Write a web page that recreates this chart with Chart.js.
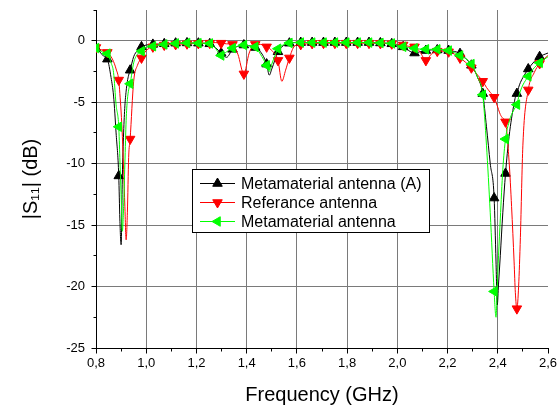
<!DOCTYPE html>
<html><head><meta charset="utf-8">
<script src="https://cdn.jsdelivr.net/npm/chart.js@4.4.1/dist/chart.umd.min.js"></script>
<style>html,body{margin:0;padding:0;background:#fff;}canvas{display:block;}</style>
</head><body>
<canvas id="c" width="560" height="409"></canvas>
<script>
// Frequency samples (GHz)
const freq = [
0.8000, 0.8150, 0.8300, 0.8453, 0.8600, 0.8700, 0.8800, 0.8906, 0.8950, 0.9000,
0.9050, 0.9100, 0.9150, 0.9200, 0.9250, 0.9300, 0.9359, 0.9500, 0.9650, 0.9812,
1.0000, 1.0265, 1.0718, 1.1171, 1.1624, 1.2077, 1.2530, 1.2750, 1.2983, 1.3200,
1.3436, 1.3650, 1.3889, 1.4100, 1.4342, 1.4550, 1.4795, 1.4900, 1.5000, 1.5248,
1.5400, 1.5550, 1.5701, 1.5900, 1.6154, 1.6607, 1.7060, 1.7513, 1.7966, 1.8419,
1.8872, 1.9325, 1.9778, 2.0000, 2.0231, 2.0450, 2.0684, 2.0900, 2.1137, 2.1350,
2.1590, 2.2043, 2.2496, 2.2949, 2.3200, 2.3402, 2.3550, 2.3700, 2.3855, 2.3930,
2.3980, 2.4030, 2.4100, 2.4200, 2.4308, 2.4450, 2.4550, 2.4650, 2.4700, 2.4761,
2.4830, 2.4900, 2.5000, 2.5214, 2.5450, 2.5667, 2.6000
];
// |S11| (dB) — Metamaterial antenna (A)
const s11MetaA = [
-0.6, -0.9, -1.25, -1.5, -3.0, -4.5, -7.5, -11.0, -14.5, -16.6,
-11.0, -7.5, -5.3, -4.1, -3.3, -2.8, -2.4, -1.3, -0.8, -0.5,
-0.35, -0.3, -0.25, -0.2, -0.18, -0.2, -0.25, -0.55, -1.0, -1.35,
-0.7, -0.45, -0.35, -0.4, -0.55, -0.9, -1.9, -2.8, -2.3, -0.9,
-0.5, -0.3, -0.2, -0.15, -0.15, -0.15, -0.15, -0.15, -0.15, -0.15,
-0.15, -0.18, -0.25, -0.35, -0.5, -0.8, -1.0, -0.9, -0.8, -0.75,
-0.75, -0.8, -1.05, -2.0, -3.0, -4.3, -7.0, -10.0, -12.8, -18.0,
-21.5, -19.8, -17.5, -14.0, -10.8, -7.8, -6.3, -5.1, -4.6, -4.3,
-3.8, -3.4, -3.0, -2.3, -1.7, -1.3, -1.0
];
// |S11| (dB) — Referance antenna
const s11Ref = [
-0.55, -0.7, -0.8, -0.95, -1.3, -1.7, -2.3, -3.2, -4.3, -5.8,
-7.8, -10.5, -13.5, -16.2, -14.0, -9.5, -8.0, -3.3, -2.0, -1.4,
-0.8, -0.5, -0.35, -0.3, -0.25, -0.22, -0.2, -0.15, -0.2, -0.25,
-0.3, -1.1, -2.7, -1.0, -0.3, -0.3, -0.5, -0.6, -0.8, -1.6,
-3.3, -2.4, -1.4, -0.45, -0.3, -0.22, -0.2, -0.2, -0.2, -0.2,
-0.2, -0.22, -0.25, -0.3, -0.35, -0.45, -0.5, -0.9, -1.6, -1.1,
-0.85, -0.9, -1.4, -2.2, -2.8, -3.3, -3.8, -4.2, -4.6, -5.0,
-5.3, -5.6, -6.0, -6.3, -6.6, -9.8, -13.5, -18.0, -20.5, -21.8,
-20.0, -16.0, -8.5, -4.0, -2.6, -1.85, -1.2
];
// |S11| (dB) — Metamaterial antenna
const s11Meta = [
-0.6, -0.8, -0.95, -1.05, -1.8, -2.6, -5.2, -7.0, -9.5, -12.5,
-15.5, -13.5, -10.0, -6.5, -4.8, -4.0, -3.5, -1.8, -1.1, -0.85,
-0.55, -0.45, -0.3, -0.22, -0.18, -0.2, -0.22, -0.6, -1.2, -0.9,
-0.6, -0.45, -0.35, -0.4, -0.5, -1.1, -2.0, -2.5, -1.9, -0.65,
-0.4, -0.25, -0.18, -0.15, -0.15, -0.15, -0.15, -0.15, -0.15, -0.15,
-0.15, -0.18, -0.22, -0.35, -0.49, -0.55, -0.62, -0.68, -0.7, -0.7,
-0.7, -0.8, -1.2, -1.9, -3.0, -4.4, -8.5, -14.0, -20.4, -22.5,
-20.0, -17.5, -14.5, -10.5, -8.0, -6.6, -6.0, -5.6, -5.4, -5.2,
-4.6, -4.1, -3.6, -2.9, -2.2, -1.8, -1.3
];
const seriesNames = ['Metamaterial antenna (A)', 'Referance antenna', 'Metamaterial antenna'];
const xTicks = [0.8, 1.0, 1.2, 1.4, 1.6, 1.8, 2.0, 2.2, 2.4, 2.6];
const xTickLabels = ['0,8', '1,0', '1,2', '1,4', '1,6', '1,8', '2,0', '2,2', '2,4', '2,6'];
const yTicks = [-25, -20, -15, -10, -5, 0];
const yTickLabels = ['-25', '-20', '-15', '-10', '-5', '0'];

const FONT = "'Liberation Sans', Arial, Helvetica, sans-serif";
const GRID = '#7a7a7a';
const MARK_STEP = 0.0453;
function isMarker(i) {
  const f = freq[i];
  if (f === undefined) return false;
  const r = (f - 0.8) / MARK_STEP;
  return Math.abs(r - Math.round(r)) < 0.01;
}
function makeSet(label, values, color, rot, order) {
  return {
    label, order,
    data: freq.map((f, i) => ({ x: f, y: values[i] })),
    borderColor: color, backgroundColor: color,
    borderWidth: 1,
    pointStyle: 'triangle', pointRotation: rot,
    pointRadius: c => isMarker(c.dataIndex) ? 5.5 : 0,
    pointHoverRadius: c => isMarker(c.dataIndex) ? 5.5 : 0,
    pointBorderWidth: 1,
    cubicInterpolationMode: 'monotone'
  };
}
function alignPx(p) { return Math.round(p - 0.5) + 0.5; }
function drawTri(ctx, x, y, r, rotDeg, color) {
  let rad = rotDeg * Math.PI / 180;
  ctx.beginPath();
  for (let k = 0; k < 3; k++) {
    const px = x + Math.sin(rad) * r, py = y - Math.cos(rad) * r;
    if (k) ctx.lineTo(px, py); else ctx.moveTo(px, py);
    rad += 2 * Math.PI / 3;
  }
  ctx.closePath();
  ctx.fillStyle = color; ctx.fill();
  ctx.strokeStyle = color; ctx.lineWidth = 1; ctx.stroke();
}
const axisTicks = {
  id: 'axisTicks',
  afterDraw(chart) {
    const { ctx, chartArea: a, scales: { x, y } } = chart;
    ctx.save();
    ctx.strokeStyle = '#000'; ctx.lineWidth = 1;
    ctx.beginPath();
    const yb = alignPx(a.bottom);
    xTicks.forEach((v, i) => {
      const px = alignPx(x.getPixelForValue(v));
      ctx.moveTo(px, yb); ctx.lineTo(px, yb + 5);
      if (i < xTicks.length - 1) {
        const pm = alignPx(x.getPixelForValue((v + xTicks[i + 1]) / 2));
        ctx.moveTo(pm, yb); ctx.lineTo(pm, yb + 3);
      }
    });
    const xl = alignPx(a.left);
    yTicks.forEach(v => {
      const py = alignPx(y.getPixelForValue(v));
      ctx.moveTo(xl, py); ctx.lineTo(xl - 5, py);
      const m = v + 2.5;
      if (m <= y.max + 1e-9) {
        const pm = alignPx(y.getPixelForValue(m));
        ctx.moveTo(xl, pm); ctx.lineTo(xl - 3, pm);
      }
    });
    ctx.stroke();
    ctx.restore();
  }
};
const legendBox = {
  id: 'legendBox',
  afterDraw(chart) {
    const ctx = chart.ctx;
    const L = 192.5, T = 169.5, W = 237, H = 63;
    ctx.save();
    ctx.fillStyle = '#fff'; ctx.fillRect(L, T, W, H);
    ctx.strokeStyle = '#000'; ctx.lineWidth = 1; ctx.strokeRect(L, T, W, H);
    ctx.font = '16px ' + FONT; ctx.textBaseline = 'middle'; ctx.textAlign = 'left';
    chart.data.datasets.forEach((ds, i) => {
      const yy = 183.5 + i * 19;
      ctx.strokeStyle = ds.borderColor; ctx.lineWidth = 1;
      ctx.beginPath(); ctx.moveTo(200, yy); ctx.lineTo(235, yy); ctx.stroke();
      drawTri(ctx, 217.5, yy, 5.5, ds.pointRotation, ds.borderColor);
      ctx.fillStyle = '#000';
      ctx.fillText(ds.label, 241, yy + 1);
    });
    ctx.restore();
  }
};

new Chart(document.getElementById('c'), {
  type: 'line',
  data: {
    datasets: [
      makeSet(seriesNames[0], s11MetaA, '#000000', 0, 3),
      makeSet(seriesNames[1], s11Ref, '#ff0000', 180, 2),
      makeSet(seriesNames[2], s11Meta, '#00ff00', -90, 1)
    ]
  },
  options: {
    responsive: false, animation: false, events: [], devicePixelRatio: 1,
    layout: { padding: { left: 0, right: 12, top: 10, bottom: 0 } },
    plugins: { legend: { display: false }, tooltip: { enabled: false } },
    scales: {
      x: {
        type: 'linear', min: 0.8, max: 2.6,
        afterFit: s => { s.height = 61; s.paddingLeft = 0; s.paddingRight = 0; },
        afterBuildTicks: s => { s.ticks = xTicks.map(v => ({ value: v })); },
        ticks: { callback: (v, i) => xTickLabels[i], font: { family: FONT, size: 13 }, color: '#000', padding: 8, maxRotation: 0, autoSkip: false },
        grid: { color: c => (c.tick && Math.abs(c.tick.value - 2.6) < 1e-6) ? 'rgba(0,0,0,0)' : GRID, drawTicks: false, lineWidth: 1 },
        border: { display: true, color: '#000', width: 1 },
        title: { display: true, text: 'Frequency (GHz)', font: { family: FONT, size: 20 }, color: '#000', padding: { top: 0, bottom: 2 } }
      },
      y: {
        type: 'linear', min: -25, max: 2.5,
        afterFit: s => { s.width = 96; s.paddingTop = 0; s.paddingBottom = 0; },
        afterBuildTicks: s => { s.ticks = yTicks.map(v => ({ value: v })); },
        ticks: { callback: (v, i) => yTickLabels[i], font: { family: FONT, size: 13 }, color: '#000', padding: 11, autoSkip: false },
        grid: { color: GRID, drawTicks: false, lineWidth: 1 },
        border: { display: true, color: '#000', width: 1 },
        title: { display: true, text: '|S\u2081\u2081| (dB)', font: { family: FONT, size: 20 }, color: '#000', padding: { top: 19, bottom: 0 } }
      }
    }
  },
  plugins: [axisTicks, legendBox]
});
</script>
</body></html>
